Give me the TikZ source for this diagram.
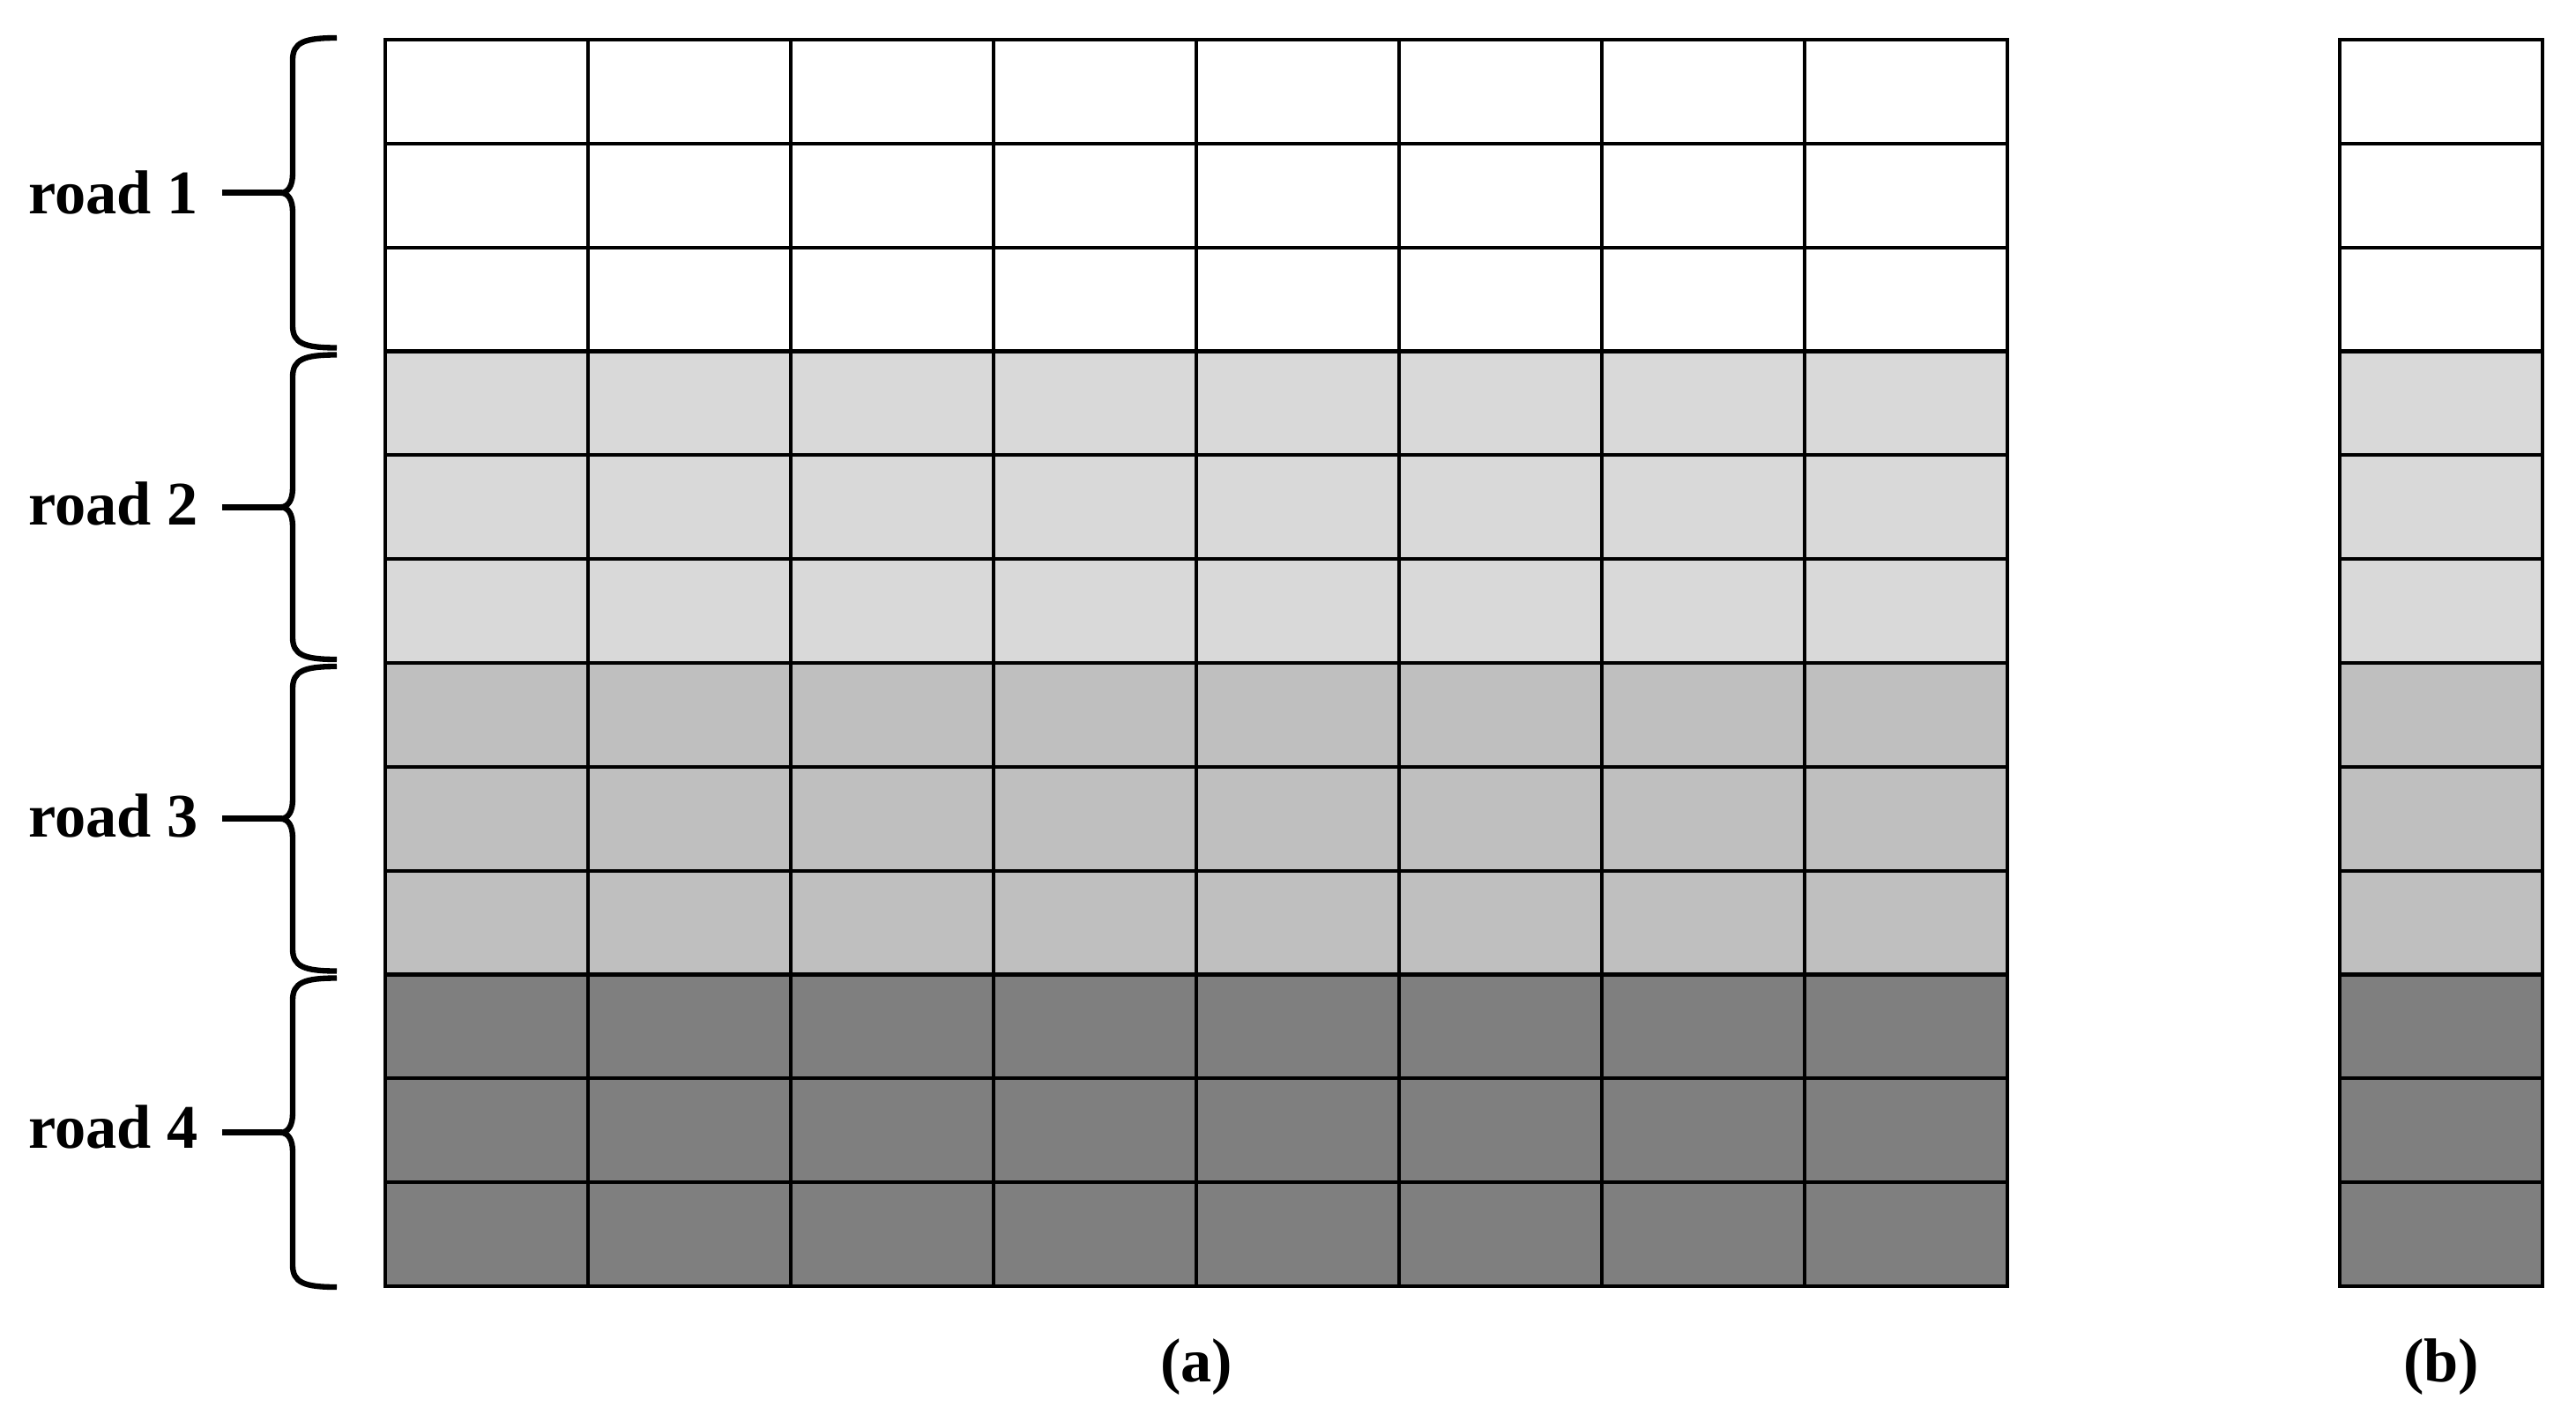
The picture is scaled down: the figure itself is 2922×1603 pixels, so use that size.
\documentclass[tikz,border=0pt]{standalone}
\usepackage{fontspec}
\setmainfont{Liberation Serif}
\definecolor{gA}{RGB}{255,255,255}
\definecolor{gB}{RGB}{217,217,217}
\definecolor{gC}{RGB}{191,191,191}
\definecolor{gD}{RGB}{127,127,127}
\begin{document}
\begin{tikzpicture}[x=0.01cm,y=-0.01cm,
  cellline/.style={draw=black,line width=1.2pt,line cap=rect},
  bracestyle/.style={line width=1.8pt,line cap=butt},
  tickstyle/.style={line width=2pt},
  roadlab/.style={font=\fontsize{20}{24}\selectfont\bfseries, anchor=base west, inner sep=0pt},
  caplab/.style={font=\fontsize{20}{24}\selectfont\bfseries, anchor=base, inner sep=0pt}]
\useasboundingbox (0,0) rectangle (2922,1603);
% fills
\foreach \k/\c in {0/gA,1/gB,2/gC,3/gD}{
  \pgfmathsetmacro\ya{45+353.5*\k}
  \pgfmathsetmacro\yb{45+353.5*(\k+1)}
  \fill[\c] (437,\ya) rectangle (2277,\yb);
  \fill[\c] (2654,\ya) rectangle (2884,\yb);
}
% horizontal lines
\foreach \i in {0,...,12}{
  \pgfmathsetmacro\yy{45+117.8333*\i}
  \draw[cellline] (437,\yy) -- (2277,\yy);
  \draw[cellline] (2654,\yy) -- (2884,\yy);
}
% vertical lines
\foreach \j in {0,...,8}{
  \pgfmathsetmacro\xx{437+230*\j}
  \draw[cellline] (\xx,45) -- (\xx,1459);
}
\draw[cellline] (2654,45) -- (2654,1459);
\draw[cellline] (2884,45) -- (2884,1459);
% braces and labels
\foreach \k/\dt/\db in {0/-2/-4,1/4/-4,2/4/-4,3/4/1}{
  \pgfmathsetmacro\yt{45+353.5*\k+\dt}
  \pgfmathsetmacro\yb{45+353.5*(\k+1)+\db}
  \pgfmathsetmacro\ym{(\yt+\yb)/2}
  \pgfmathsetmacro\ybase{242+353.5*\k}
  \pgfmathtruncatemacro\n{\k+1}
  \draw[bracestyle] (382,\yt) .. controls (345,\yt) and (332,\yt+5) .. (332,\yt+25)
    -- (332,\ym-22) .. controls (332,\ym-8) and (327,\ym) .. (318,\ym)
    .. controls (327,\ym) and (332,\ym+8) .. (332,\ym+22)
    -- (332,\yb-25) .. controls (332,\yb-5) and (345,\yb) .. (382,\yb);
  \node[roadlab] (road\n) at (32,\ybase) {road \n};
  \coordinate (tick\n) at (252,\ym);
  \coordinate (cusp\n) at (320,\ym);
  \draw[tickstyle] (tick\n) -- (cusp\n);
}
\node[caplab] (capa) at (1357,1567) {(a)};
\node[caplab] (capb) at (2769,1567) {(b)};
\end{tikzpicture}
\end{document}
